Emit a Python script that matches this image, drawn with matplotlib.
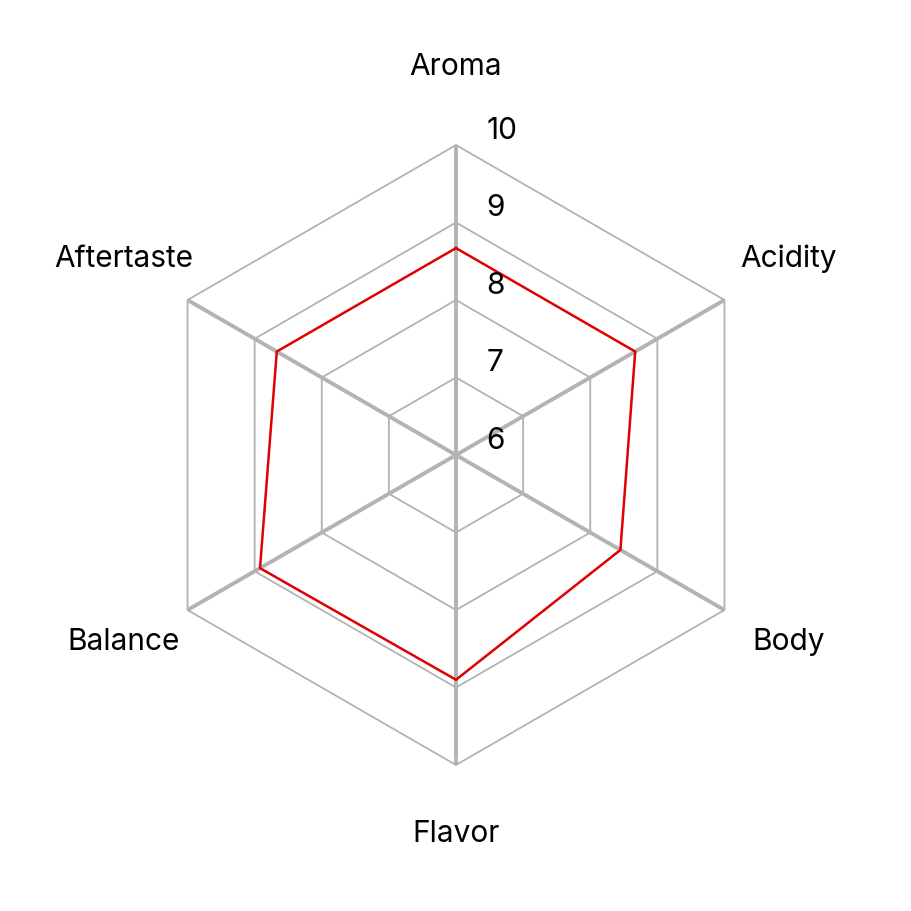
import numpy as np
import matplotlib
matplotlib.use("Agg")
import matplotlib.pyplot as plt

categories = ["Aroma", "Acidity", "Body", "Flavor", "Balance", "Aftertaste"]
values = [8.67, 8.67, 8.45, 8.9, 8.92, 8.67]
ring_levels = [7, 8, 9, 10]
tick_values = [6, 7, 8, 9, 10]
tick_labels = ["6", "7", "8", "9", "10"]
r_min, r_max = 6, 10

plt.rcParams['font.family'] = ['Inter', 'DejaVu Sans']

fig = plt.figure(figsize=(9.12, 9.12), dpi=100)
W = 912
cx, cy, R = 456, 456, 310
ax = fig.add_axes([(cx - R) / W, (W - cy - R) / W, 2 * R / W, 2 * R / W], projection='polar')
ax.set_theta_zero_location('N')
ax.set_theta_direction(-1)
ax.set_ylim(r_min, r_max)
ax.grid(False)
ax.spines['polar'].set_visible(False)
ax.set_xticks([])
ax.set_yticks([])
ax.patch.set_alpha(0)

n = len(categories)
theta = np.arange(n) * 2 * np.pi / n
theta_closed = np.append(theta, theta[0])

grid_color = '#b3b3b3'
for lvl in ring_levels:
    ax.plot(theta_closed, [lvl] * (n + 1), color=grid_color, lw=1.3, zorder=1, clip_on=False)
for t in theta:
    ax.plot([t, t], [r_min, r_max], color=grid_color, lw=2.8, zorder=1, clip_on=False, solid_capstyle='butt')

vals_closed = values + values[:1]
ax.plot(theta_closed, vals_closed, color='#e00000', lw=1.8, zorder=3, clip_on=False)

for v, lab in zip(tick_values, tick_labels):
    ax.annotate(lab, xy=(0, v), xytext=(22, 11), textcoords='offset points',
                ha='left', va='center', fontsize=21.5, color='black', annotation_clip=False)

for t, c in zip(theta, categories):
    ax.annotate(c, xy=(t, 10.95), xytext=(0, 4), textcoords='offset points',
                ha='center', va='center', fontsize=21.5, color='black', annotation_clip=False)

fig.savefig('out.png', dpi=100)
